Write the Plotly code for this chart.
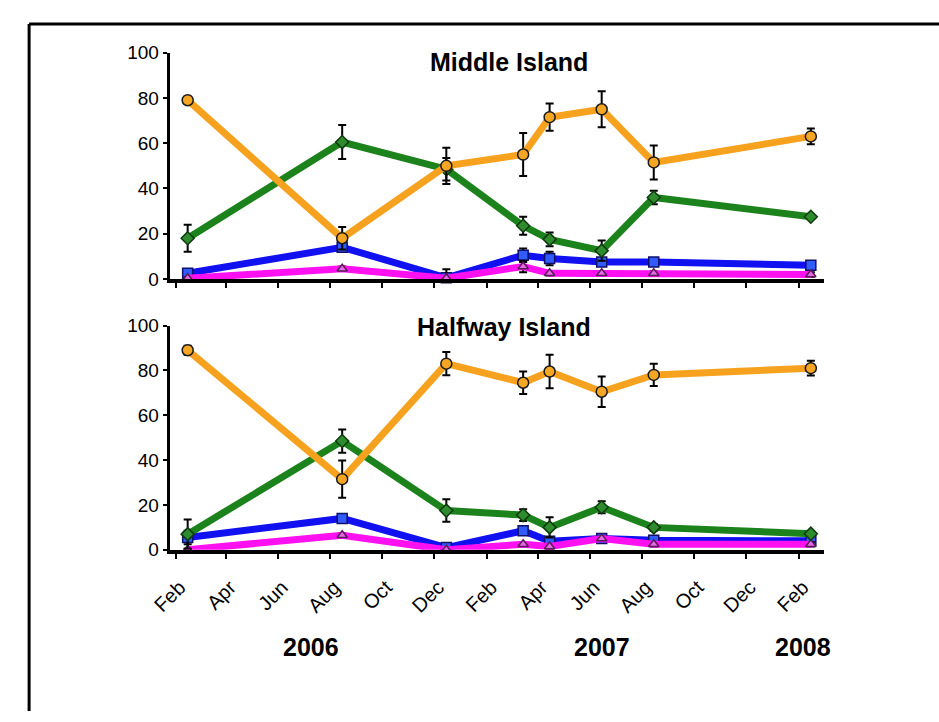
import plotly.graph_objects as go

# Sampling dates (mid-month)
sample_dates = ["2006-02-15", "2006-08-15", "2006-12-15", "2007-03-15",
                "2007-04-15", "2007-06-15", "2007-08-15", "2008-02-15"]

# Middle Island (% cover) with standard errors
middle_orange = [79, 18, 50, 55, 71.5, 75, 51.5, 63]
middle_orange_se = [1.5, 5, 8, 9.5, 6, 8, 7.5, 3.5]
middle_green = [18, 60.5, 48.5, 23.5, 17.5, 12.5, 36, 27.5]
middle_green_se = [6, 7.5, 5, 4, 3, 4.5, 3, 0.5]
middle_blue = [2.5, 14, 0.5, 10.5, 9, 7.5, 7.5, 6]
middle_blue_se = [1, 1, 0.5, 3, 3, 1, 1, 1]
middle_pink = [0.3, 4.5, 0.3, 5.5, 2.5, 2.5, 2.5, 2]
middle_pink_se = [0.5, 1, 4, 2.5, 1, 1, 1, 1]

# Halfway Island (% cover) with standard errors
halfway_orange = [89, 31.5, 83, 74.5, 79.5, 70.5, 78, 81]
halfway_orange_se = [2, 8.3, 5.2, 5, 7.5, 6.8, 5, 3.3]
halfway_green = [7, 48.5, 17.5, 15.5, 10, 19, 10, 7.2]
halfway_green_se = [6.5, 5.2, 5, 2.6, 4.5, 2.7, 1.5, 0.5]
halfway_blue = [5.5, 14, 1, 8.5, 3.8, 5, 4.3, 4]
halfway_blue_se = [3, 1, 0.5, 1, 1, 1, 1, 1]
halfway_pink = [0, 6.5, 0, 2.5, 1.5, 5, 2.5, 2.5]
halfway_pink_se = [0.5, 1, 0.5, 1, 1, 1, 1, 1]

panel_titles = ["Middle Island", "Halfway Island"]
year_labels = ["2006", "2007", "2008"]
y_ticks = [0, 20, 40, 60, 80, 100]

W, H = 939, 722
FONT = "Liberation Sans, Arial, sans-serif"


def px(xp):
    """Pixel column -> paper fraction."""
    return xp / W


def py(yp):
    """Pixel row (from top) -> paper fraction."""
    return 1 - yp / H


styles = {
    "blue": dict(line="#1010F0", fill="#2F5BFF", edge="#10106A", symbol="square", size=10),
    "pink": dict(line="#FF10F0", fill="#E46AE4", edge="#5A1A5A", symbol="triangle-up", size=9),
    "green": dict(line="#1C821C", fill="#2E8B2E", edge="#0E3A0E", symbol="diamond", size=10),
    "orange": dict(line="#F7A21E", fill="#F5A623", edge="#1A1A1A", symbol="circle", size=11),
}

panels = [
    ("x", "y", {"blue": (middle_blue, middle_blue_se), "pink": (middle_pink, middle_pink_se),
                "green": (middle_green, middle_green_se), "orange": (middle_orange, middle_orange_se)}),
    ("x2", "y2", {"blue": (halfway_blue, halfway_blue_se), "pink": (halfway_pink, halfway_pink_se),
                  "green": (halfway_green, halfway_green_se), "orange": (halfway_orange, halfway_orange_se)}),
]

fig = go.Figure()
for xa, ya, series in panels:
    for key in ["blue", "pink", "green", "orange"]:
        vals, se = series[key]
        s = styles[key]
        fig.add_trace(go.Scatter(
            x=sample_dates, y=vals, xaxis=xa, yaxis=ya,
            mode="lines+markers", cliponaxis=False, showlegend=False,
            line=dict(color=s["line"], width=7),
            marker=dict(symbol=s["symbol"], size=s["size"], color=s["fill"],
                        line=dict(color=s["edge"], width=1.5)),
            error_y=dict(type="data", array=se, visible=True, color="black",
                         thickness=2, width=4),
        ))

x_dom = [px(153), px(822)]
top_dom = [py(277), py(44)]
bot_dom = [py(556), py(325)]
x_range = ["2006-01-25", "2008-03-02"]

common_x = dict(type="date", range=x_range, showline=True, linecolor="black", linewidth=4,
                ticks="outside", ticklen=5, tickwidth=1.5, tickcolor="black",
                tick0="2006-02-01", dtick="M2", tickformat="%b", showgrid=False,
                zeroline=False, domain=x_dom)
common_y = dict(range=[0, 100], showline=True, linecolor="black", linewidth=3,
                ticks="outside", ticklen=4, tickwidth=2, tickcolor="black",
                tickvals=y_ticks, showgrid=False, zeroline=False,
                tickfont=dict(size=19, color="black", family=FONT))

fig.update_layout(
    width=W, height=H, autosize=False,
    margin=dict(l=0, r=0, t=0, b=0),
    paper_bgcolor="white", plot_bgcolor="white",
    font=dict(family=FONT, color="black"),
    xaxis=dict(common_x, anchor="y", showticklabels=False),
    yaxis=dict(common_y, anchor="x", domain=top_dom),
    xaxis2=dict(common_x, anchor="y2", showticklabels=True, tickangle=-45,
                tickfont=dict(size=20, color="black", family=FONT),
                ticklabelstandoff=9, ticklabelshift=4),
    yaxis2=dict(common_y, anchor="x2", domain=bot_dom),
)

# Panel titles
for text, cx, cy in [(panel_titles[0], 499.5, 54), (panel_titles[1], 494.7, 327)]:
    fig.add_annotation(text=f"<b>{text}</b>", x=px(cx), y=py(cy), xref="paper", yref="paper",
                       showarrow=False, xanchor="center", yanchor="middle",
                       font=dict(size=25, family=FONT, color="black"))

# Year labels under the month axis
for text, cx in zip(year_labels, [297, 595, 800]):
    fig.add_annotation(text=f"<b>{text}</b>", x=px(cx), y=py(656), xref="paper", yref="paper",
                       showarrow=False, xanchor="center", yanchor="middle",
                       font=dict(size=25, family=FONT, color="black"))

# Outer frame (top and left edges)
fig.add_shape(type="line", xref="paper", yref="paper", x0=px(9.3), x1=1, y0=py(14.5), y1=py(14.5),
              line=dict(color="black", width=3))
fig.add_shape(type="line", xref="paper", yref="paper", x0=px(9.3), x1=px(9.3), y0=0, y1=py(14.5),
              line=dict(color="black", width=3))

fig.write_html("out.html")
